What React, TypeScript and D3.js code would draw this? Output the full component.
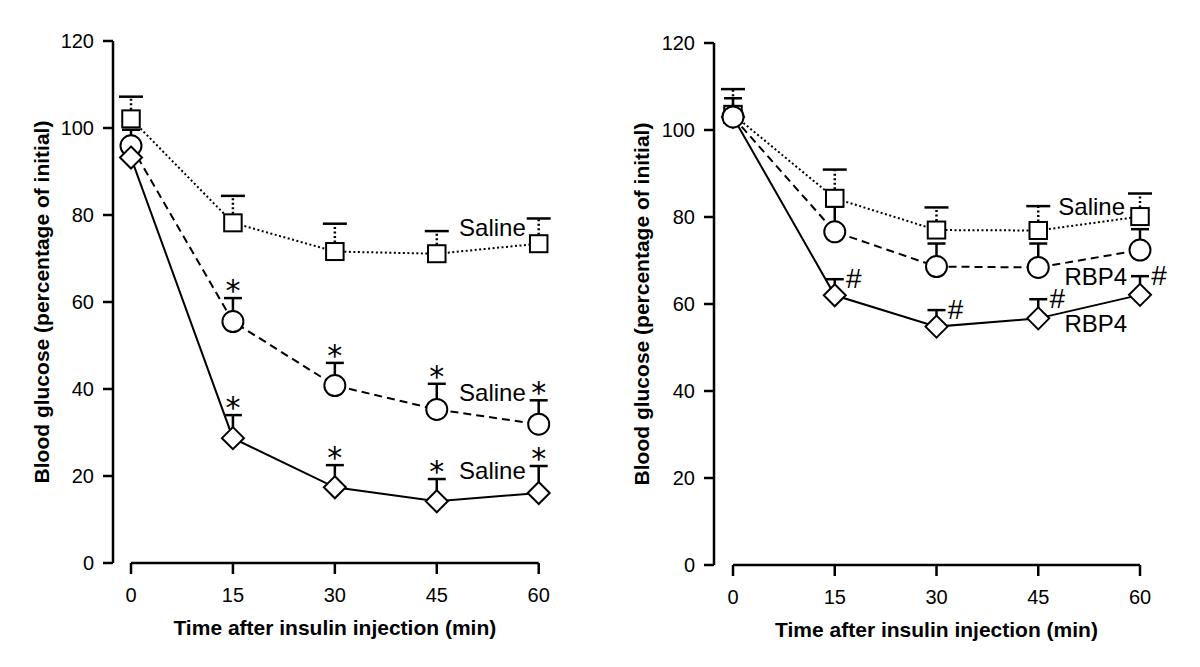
import React from "react";
import * as d3 from "d3";

const times = [0, 15, 30, 45, 60];
const xTicks = [0, 15, 30, 45, 60];
const yTicks = [0, 20, 40, 60, 80, 100, 120];

// Left panel
const leftSquare = [102.1, 78.2, 71.6, 71.1, 73.4];
const leftSquareErr = [5.1, 6.2, 6.4, 5.2, 5.8];
const leftCircle = [95.9, 55.5, 40.8, 35.3, 31.9];
const leftCircleErr = [3.7, 5.4, 5.2, 5.9, 5.5];
const leftDiamond = [93.2, 28.7, 17.4, 14.2, 16.1];
const leftDiamondErr = [0, 5.3, 5.1, 5.1, 6.2];
const leftCircleStar = [false, true, true, true, true];
const leftDiamondStar = [false, true, true, true, true];
const leftLabelText = ["Saline", "Saline", "Saline"];
const leftLabelT = [58.1, 58.1, 58.1];
const leftLabelV = [77.2, 39.3, 21.3];

// Right panel
const rightSquare = [103.6, 84.3, 77.0, 76.9, 80.1];
const rightSquareErr = [5.8, 6.6, 5.2, 5.6, 5.3];
const rightCircle = [103.0, 76.6, 68.6, 68.4, 72.4];
const rightCircleErr = [4.3, 5.8, 5.3, 5.5, 4.8];
const rightDiamond = [103.0, 62.0, 54.8, 56.7, 62.1];
const rightDiamondErr = [0, 3.7, 3.8, 4.4, 4.3];
const rightDiamondHash = [false, true, true, true, true];
const rightLabelText = ["Saline", "RBP4", "RBP4"];
const rightLabelT = [57.8, 58.1, 58.1];
const rightLabelV = [82.4, 66.3, 55.6];

const xTitle = "Time after insulin injection (min)";
const yTitle = "Blood glucose (percentage of initial)";

const FONT = "'Liberation Sans', Arial, Helvetica, sans-serif";

type Series = {
  vals: number[];
  errs: number[];
  shape: "square" | "circle" | "diamond";
  dash: string | null;
  barDash: string | null;
  capW: number;
  mark: string | null;
  markFlags: boolean[] | null;
};

function Marker({ shape, cx, cy }: { shape: string; cx: number; cy: number }) {
  const common = { fill: "#fff", stroke: "#000", strokeWidth: 2 };
  if (shape === "square") {
    return <rect x={cx - 8.75} y={cy - 8.5} width={17.5} height={17} {...common} />;
  }
  if (shape === "circle") {
    return <circle cx={cx} cy={cy} r={10.5} {...common} />;
  }
  const h = 11;
  return (
    <path
      d={`M${cx},${cy - h}L${cx + h},${cy}L${cx},${cy + h}L${cx - h},${cy}Z`}
      {...common}
    />
  );
}

function Panel(props: {
  yAxisX: number;
  x0: number;
  x1: number;
  y0: number;
  y1: number;
  yTitleX: number;
  series: Series[];
  order: string[];
  labelText: string[];
  labelT: number[];
  labelV: number[];
}) {
  const { yAxisX, x0, x1, y0, y1, yTitleX, series, order, labelText, labelT, labelV } = props;
  const xs = d3.scaleLinear().domain([0, 60]).range([x0, x1]);
  const ys = d3.scaleLinear().domain([0, 120]).range([y0, y1]);
  const line = d3
    .line<number>()
    .x((_, i) => xs(times[i]))
    .y((d) => ys(d));
  return (
    <g>
      {/* y axis */}
      <line x1={yAxisX} x2={yAxisX} y1={ys(120)} y2={ys(0)} stroke="#000" strokeWidth={2.5} />
      {yTicks.map((t) => (
        <g key={"yt" + t}>
          <line x1={yAxisX - 10} x2={yAxisX} y1={ys(t)} y2={ys(t)} stroke="#000" strokeWidth={2.5} />
          <text
            x={yAxisX - 19}
            y={ys(t)}
            dy="0.36em"
            textAnchor="end"
            fontFamily={FONT}
            fontSize={20}
          >
            {t}
          </text>
        </g>
      ))}
      {/* x axis */}
      <line x1={xs(0)} x2={xs(60)} y1={y0} y2={y0} stroke="#000" strokeWidth={2.5} />
      {xTicks.map((t) => (
        <g key={"xt" + t}>
          <line x1={xs(t)} x2={xs(t)} y1={y0} y2={y0 + 11} stroke="#000" strokeWidth={2.5} />
          <text
            x={xs(t)}
            y={y0 + 32}
            dy="0.36em"
            textAnchor="middle"
            fontFamily={FONT}
            fontSize={20}
          >
            {t}
          </text>
        </g>
      ))}
      <text
        x={(xs(0) + xs(60)) / 2}
        y={y0 + 64}
        dy="0.36em"
        textAnchor="middle"
        fontFamily={FONT}
        fontSize={21}
        fontWeight="bold"
      >
        {xTitle}
      </text>
      <text
        transform={`translate(${yTitleX},${(ys(0) + ys(120)) / 2}) rotate(-90)`}
        dy="0.36em"
        textAnchor="middle"
        fontFamily={FONT}
        fontSize={21}
        fontWeight="bold"
      >
        {yTitle}
      </text>

      {/* lines */}
      {series.map((s, k) => (
        <path
          key={"ln" + k}
          d={line(s.vals) || ""}
          fill="none"
          stroke="#000"
          strokeWidth={2}
          strokeDasharray={s.dash || undefined}
        />
      ))}
      {/* error bars */}
      {series.map((s, k) =>
        s.vals.map((v, i) =>
          s.errs[i] > 0 ? (
            <g key={"eb" + k + "-" + i}>
              <line
                x1={xs(times[i])}
                x2={xs(times[i])}
                y1={ys(v)}
                y2={ys(v + s.errs[i])}
                stroke="#000"
                strokeWidth={2.5}
                strokeDasharray={s.barDash || undefined}
              />
              <line
                x1={xs(times[i]) - s.capW / 2}
                x2={xs(times[i]) + s.capW / 2}
                y1={ys(v + s.errs[i])}
                y2={ys(v + s.errs[i])}
                stroke="#000"
                strokeWidth={2.5}
              />
            </g>
          ) : null
        )
      )}
      {/* markers */}
      {order.map((shape) =>
        series
          .filter((s) => s.shape === shape)
          .map((s, k) =>
            s.vals.map((v, i) => (
              <Marker key={shape + k + "-" + i} shape={shape} cx={xs(times[i])} cy={ys(v)} />
            ))
          )
      )}
      {/* significance marks */}
      {series.map((s, k) =>
        s.mark && s.markFlags
          ? s.vals.map((v, i) => {
              if (!s.markFlags![i]) return null;
              const capY = ys(v + s.errs[i]);
              if (s.mark === "*") {
                return (
                  <text
                    key={"mk" + k + "-" + i}
                    x={xs(times[i])}
                    y={capY + 3}
                    textAnchor="middle"
                    fontFamily="'DejaVu Sans', sans-serif"
                    fontSize={30}
                  >
                    *
                  </text>
                );
              }
              return (
                <text
                  key={"mk" + k + "-" + i}
                  x={xs(times[i]) + 19}
                  y={capY - 1}
                  dy="0.36em"
                  textAnchor="middle"
                  fontFamily={FONT}
                  fontSize={28}
                >
                  #
                </text>
              );
            })
          : null
      )}
      {/* series labels */}
      {labelText.map((t, i) => (
        <text
          key={"lb" + i}
          x={xs(labelT[i])}
          y={ys(labelV[i])}
          dy="0.36em"
          textAnchor="end"
          fontFamily={FONT}
          fontSize={24}
        >
          {t}
        </text>
      ))}
    </g>
  );
}

export default function App() {
  const leftSeries: Series[] = [
    { vals: leftSquare, errs: leftSquareErr, shape: "square", dash: "2,2.5", barDash: "2,2.5", capW: 24, mark: null, markFlags: null },
    { vals: leftCircle, errs: leftCircleErr, shape: "circle", dash: "8,5", barDash: null, capW: 18, mark: "*", markFlags: leftCircleStar },
    { vals: leftDiamond, errs: leftDiamondErr, shape: "diamond", dash: null, barDash: null, capW: 18, mark: "*", markFlags: leftDiamondStar },
  ];
  const rightSeries: Series[] = [
    { vals: rightSquare, errs: rightSquareErr, shape: "square", dash: "2,2.5", barDash: "2,2.5", capW: 24, mark: null, markFlags: null },
    { vals: rightCircle, errs: rightCircleErr, shape: "circle", dash: "8,5", barDash: null, capW: 18, mark: null, markFlags: null },
    { vals: rightDiamond, errs: rightDiamondErr, shape: "diamond", dash: null, barDash: null, capW: 18, mark: "#", markFlags: rightDiamondHash },
  ];
  return (
    <svg
      width={1200}
      height={667}
      style={{ position: "absolute", left: 0, top: 0, background: "#fff" }}
    >
      <rect width={1200} height={667} fill="#fff" />
      <Panel
        yAxisX={113}
        x0={131}
        x1={538.7}
        y0={563}
        y1={41}
        yTitleX={41}
        series={leftSeries}
        order={["square", "circle", "diamond"]}
        labelText={leftLabelText}
        labelT={leftLabelT}
        labelV={leftLabelV}
      />
      <Panel
        yAxisX={714}
        x0={733}
        x1={1140}
        y0={565}
        y1={43}
        yTitleX={641}
        series={rightSeries}
        order={["diamond", "square", "circle"]}
        labelText={rightLabelText}
        labelT={rightLabelT}
        labelV={rightLabelV}
      />
    </svg>
  );
}
